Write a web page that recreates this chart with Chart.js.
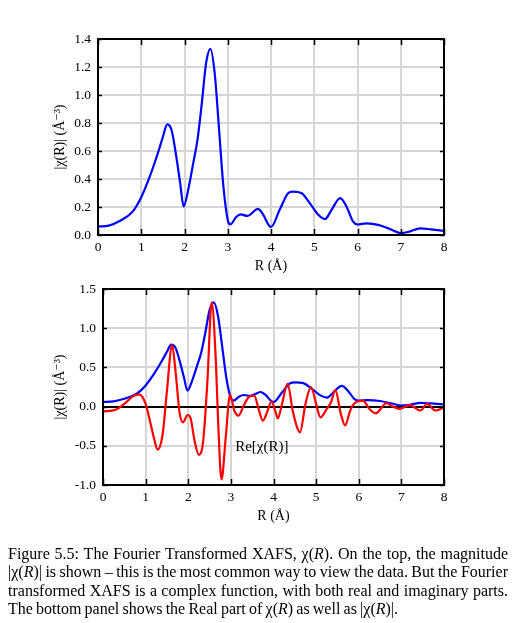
<!DOCTYPE html>
<html lang="en">
<head>
    <meta charset="UTF-8">
    <title>Fourier Transformed XAFS</title>
    <script src="https://cdn.jsdelivr.net/npm/chart.js"></script>
    <style>
        body { margin: 0; background: #fff; width: 522px; height: 623px; position: relative; overflow: hidden; }
        #top { position: absolute; left: 0; top: 0; }
        #bottom { position: absolute; left: 0; top: 265px; }
        .caption { position: absolute; left: 8px; top: 545px; width: 500px;
            font-family: "Liberation Serif", "DejaVu Serif", serif; font-size: 16px; line-height: 18.4px;
            word-spacing: -0.8px; color: #000; }
        .caption div { text-align: justify; text-align-last: justify; white-space: nowrap; }
        .caption div.last { text-align-last: left; }
    </style>
</head>
<body>
    <canvas id="top" width="522" height="280"></canvas>
    <canvas id="bottom" width="522" height="265"></canvas>
    <div class="caption">
        <div>Figure 5.5: The Fourier Transformed XAFS, χ(<i>R</i>). On the top, the magnitude</div>
        <div>|χ(<i>R</i>)| is shown – this is the most common way to view the data. But the Fourier</div>
        <div>transformed XAFS is a complex function, with both real and imaginary parts.</div>
        <div class="last">The bottom panel shows the Real part of χ(<i>R</i>) as well as |χ(<i>R</i>)|.</div>
    </div>

    <script>
        // |chi(R)|
        var rMag = [0, 0.25, 0.5, 0.8, 1.0, 1.2, 1.4, 1.5, 1.6, 1.7, 1.8, 1.9, 1.98, 2.1, 2.2, 2.3, 2.4, 2.5, 2.6, 2.7,
            2.8, 2.9, 3.0, 3.06, 3.2, 3.3, 3.45, 3.7, 3.8, 4.0, 4.2, 4.4, 4.5, 4.7, 4.9, 5.1, 5.25, 5.4, 5.6, 5.75,
            5.9, 6.0, 6.2, 6.5, 6.8, 7.0, 7.2, 7.45, 7.7, 8.0];
        var magnitude = [0.06, 0.067, 0.10, 0.167, 0.27, 0.42, 0.6, 0.70, 0.79, 0.75, 0.58, 0.37, 0.205, 0.345, 0.51, 0.68, 0.94, 1.23, 1.33, 1.15,
            0.75, 0.345, 0.107, 0.076, 0.13, 0.148, 0.136, 0.186, 0.155, 0.057, 0.18, 0.30, 0.31, 0.30, 0.226, 0.143, 0.114, 0.18, 0.264, 0.2,
            0.095, 0.075, 0.083, 0.071, 0.036, 0.014, 0.024, 0.048, 0.04, 0.029];

        // Re[chi(R)]
        var rRe = [0, 0.3, 0.5, 0.7, 0.85, 1.0, 1.1, 1.2, 1.28, 1.4, 1.5, 1.62, 1.7, 1.8, 1.88, 1.98, 2.05, 2.15, 2.25, 2.35,
            2.45, 2.55, 2.65, 2.7, 2.78, 2.88, 2.98, 3.08, 3.18, 3.3, 3.42, 3.55, 3.65, 3.75, 3.85, 3.95, 4.05, 4.1, 4.2, 4.33,
            4.45, 4.55, 4.62, 4.75, 4.88, 5.0, 5.1, 5.25, 5.35, 5.45, 5.58, 5.68, 5.8, 5.9, 6.1, 6.25, 6.4, 6.65, 6.8, 6.95,
            7.2, 7.45, 7.6, 7.8, 8.0];
        var realPart = [-0.06, -0.04, 0.034, 0.13, 0.155, 0.034, -0.18, -0.41, -0.55, -0.35, 0.2, 0.78, 0.46, -0.09, -0.2, -0.107, -0.14, -0.44, -0.615, -0.44,
            0.33, 1.33, 0.55, -0.18, -0.93, -0.39, 0.15, -0.05, -0.115, 0.013, 0.12, 0.14, -0.03, -0.18, -0.07, 0.064, -0.07, -0.15, 0.034, 0.29,
            -0.05, -0.26, -0.33, 0.034, 0.25, 0.034, -0.137, -0.03, 0.055, 0.21, -0.094, -0.24, -0.05, 0.043, 0.077, -0.03, -0.085, 0.043, 0, -0.03,
            0.02, -0.05, 0.034, -0.05, -0.01];

        var xTicks = [0, 1, 2, 3, 4, 5, 6, 7, 8];
        var topYTicks = [0, 0.2, 0.4, 0.6, 0.8, 1.0, 1.2, 1.4];
        var bottomYTicks = [-1.0, -0.5, 0, 0.5, 1.0, 1.5];
        var reLabel = 'Re[χ(R)]';

        var serif = '"Liberation Serif", "DejaVu Serif", serif';

        function pts(xs, ys) {
            return xs.map(function (x, i) { return { x: x, y: ys[i] }; });
        }

        // frame and inward ticks (the grid itself comes from Chart.js)
        var framePlugin = {
            id: 'frame',
            afterDraw: function (chart) {
                var ctx = chart.ctx, a = chart.chartArea;
                var xs = chart.scales.x, ys = chart.scales.y;
                ctx.save();
                ctx.strokeStyle = '#000';
                ctx.lineWidth = 1.5;
                ctx.beginPath();
                xs.ticks.forEach(function (t) {
                    var px = Math.round(xs.getPixelForValue(t.value)) + 0.5;
                    ctx.moveTo(px, a.top); ctx.lineTo(px, a.top + 6);
                    ctx.moveTo(px, a.bottom); ctx.lineTo(px, a.bottom - 6);
                });
                ys.ticks.forEach(function (t) {
                    var py = Math.round(ys.getPixelForValue(t.value)) + 0.5;
                    ctx.moveTo(a.left, py); ctx.lineTo(a.left + 4, py);
                    ctx.moveTo(a.right, py); ctx.lineTo(a.right - 4, py);
                });
                ctx.stroke();
                ctx.lineWidth = 2;
                ctx.strokeRect(Math.round(a.left), Math.round(a.top),
                    Math.round(a.right - a.left), Math.round(a.bottom - a.top));
                var opts = chart.options.plugins.frame;
                if (opts && opts.label) {
                    ctx.fillStyle = '#000';
                    ctx.font = '15px ' + serif;
                    ctx.textBaseline = 'middle';
                    ctx.fillText(opts.label, xs.getPixelForValue(opts.at[0]), ys.getPixelForValue(opts.at[1]));
                }
                ctx.restore();
            }
        };

        function makeOptions(yTicks, pad, yWidth, xHeight, frameOpts) {
            return {
                responsive: false,
                animation: false,
                layout: { padding: pad },
                plugins: { legend: { display: false }, tooltip: { enabled: false }, frame: frameOpts },
                elements: { point: { radius: 0 }, line: { borderWidth: 2.2, cubicInterpolationMode: 'monotone' } },
                scales: {
                    x: {
                        type: 'linear', min: 0, max: 8,
                        afterBuildTicks: function (s) { s.ticks = xTicks.map(function (v) { return { value: v }; }); },
                        afterFit: function (s) { s.height = xHeight; },
                        grid: { color: '#d6d6d6', lineWidth: 2, drawTicks: false },
                        border: { display: false },
                        ticks: { color: '#000', padding: 4, font: { family: serif, size: 13.5 }, maxRotation: 0 },
                        title: { display: true, text: 'R (Å)', color: '#000', padding: 0, font: { family: serif, size: 14 } }
                    },
                    y: {
                        type: 'linear', min: yTicks[0], max: yTicks[yTicks.length - 1],
                        afterBuildTicks: function (s) { s.ticks = yTicks.map(function (v) { return { value: v }; }); },
                        afterFit: function (s) { s.width = yWidth; },
                        grid: {
                            color: function (c) { return c.tick && c.tick.value === 0 && yTicks[0] < 0 ? '#000' : '#d6d6d6'; },
                            lineWidth: 2,
                            drawTicks: false
                        },
                        border: { display: false },
                        ticks: {
                            color: '#000', padding: 7, font: { family: serif, size: 13.5 },
                            callback: function (v) { return v.toFixed(1); }
                        },
                        title: { display: true, text: '|χ(R)| (Å⁻³)', color: '#000', padding: 0, font: { family: serif, size: 14 } }
                    }
                }
            };
        }

        new Chart(document.getElementById('top'), {
            type: 'line',
            data: {
                datasets: [{ data: pts(rMag, magnitude), borderColor: '#0000ff', fill: false }]
            },
            options: makeOptions(topYTicks, { left: 52, top: 39, right: 78, bottom: 5 }, 46, 40, {}),
            plugins: [framePlugin]
        });

        new Chart(document.getElementById('bottom'), {
            type: 'line',
            data: {
                datasets: [
                    { data: pts(rRe, realPart), borderColor: '#ff0000', fill: false },
                    { data: pts(rMag, magnitude), borderColor: '#0000ff', fill: false }
                ]
            },
            options: makeOptions(bottomYTicks, { left: 52, top: 24, right: 78, bottom: 5 }, 51, 40,
                { label: reLabel, at: [3.1, -0.52] }),
            plugins: [framePlugin]
        });
    </script>
</body>
</html>
